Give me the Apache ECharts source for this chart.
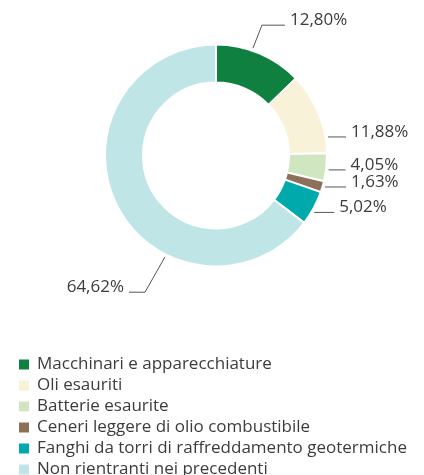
<!DOCTYPE html>
<html>
<head>
<meta charset="utf-8">
<script src="https://cdn.jsdelivr.net/npm/echarts@6/dist/echarts.min.js"></script>
<style>
  html, body { margin: 0; padding: 0; background: #fff; }
  #chart { width: 424px; height: 475px; }
</style>
</head>
<body>
<div id="chart"></div>
<script>
// Waste categories and their share of the total (%)
const categories = [
  'Macchinari e apparecchiature',
  'Oli esauriti',
  'Batterie esaurite',
  'Ceneri leggere di olio combustibile',
  'Fanghi da torri di raffreddamento geotermiche',
  'Non rientranti nei precedenti'
];
const shares = [12.80, 11.88, 4.05, 1.63, 5.02, 64.62];
const colors = ['#0f8040', '#f8f3d8', '#d0e6c1', '#8b7157', '#00a9ab', '#c0e5e7'];

// Ring geometry
const CX = 216, CY = 155.5, R_IN = 73, R_OUT = 111;

// Leader lines: [anchor angle (deg, clockwise from top), elbow dx, elbow dy, tail length, side]
const guides = [
  [19.0, 9, -23, 23, 1],
  [80.6, 0, 0, 18, 1],
  [97.3, 0, 0, 17, 1],
  [106.1, 0, 0, 21, 1],
  [120.1, 0, 0, 20, 1],
  [206.7, -20, 35.3, 16, -1]
];

function fmt(v) {
  return v.toFixed(2).replace('.', ',') + '%';
}

const chart = echarts.init(document.getElementById('chart'), null, { renderer: 'canvas' });

chart.setOption({
  animation: false,
  color: colors,
  textStyle: { fontFamily: 'Open Sans' },
  legend: {
    orient: 'vertical',
    left: 12,
    top: 351,
    height: 160,
    icon: 'rect',
    itemWidth: 12,
    itemHeight: 12,
    itemGap: 4,
    selectedMode: false,
    textStyle: { fontFamily: 'Open Sans', fontSize: 17, color: '#3c3c3c', padding: [0, 0, 0, 2] },
    data: categories
  },
  series: [{
    type: 'pie',
    center: [CX, CY],
    radius: [R_IN, R_OUT],
    startAngle: 90,
    clockwise: true,
    avoidLabelOverlap: false,
    itemStyle: { borderColor: '#ffffff', borderWidth: 2 },
    label: {
      show: true,
      position: 'outside',
      formatter: p => fmt(p.value),
      fontFamily: 'Open Sans',
      fontSize: 17,
      color: '#3c3c3c'
    },
    labelLine: {
      show: true,
      lineStyle: { color: '#555555', width: 1 }
    },
    labelLayout: function (params) {
      const g = guides[params.dataIndex];
      const a = g[0] * Math.PI / 180;
      const r = R_OUT + 2.5;
      const x0 = CX + r * Math.sin(a);
      const y0 = CY - r * Math.cos(a);
      const x1 = x0 + g[1];
      const y1 = y0 + g[2];
      const x2 = x1 + g[4] * g[3];
      return {
        x: x2 + g[4] * 5,
        y: y1 - 5,
        align: g[4] > 0 ? 'left' : 'right',
        verticalAlign: 'middle',
        labelLinePoints: [[x0, y0], [x1, y1], [x2, y1]]
      };
    },
    data: categories.map((name, i) => ({ name: name, value: shares[i] }))
  }]
});
</script>
</body>
</html>
